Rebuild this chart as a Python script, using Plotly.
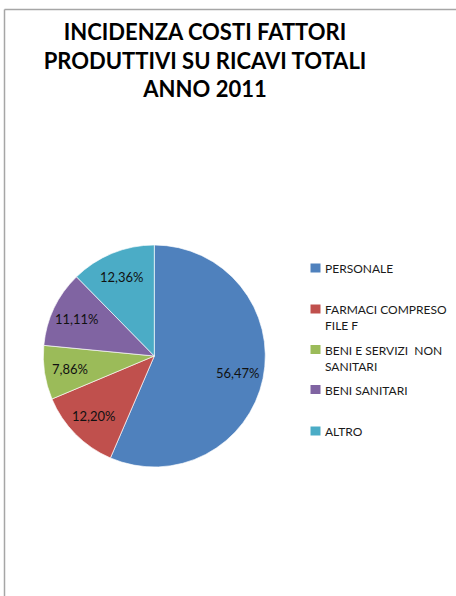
import math
import plotly.graph_objects as go

# Cost categories and their share of total revenue (2011)
categories = ["PERSONALE", "FARMACI COMPRESO FILE F", "BENI E SERVIZI  NON SANITARI",
              "BENI SANITARI", "ALTRO"]
legend_labels = ["PERSONALE", "FARMACI COMPRESO<br>FILE F", "BENI E SERVIZI  NON<br>SANITARI",
                 "BENI SANITARI", "ALTRO"]
shares = [56.47, 12.20, 7.86, 11.11, 12.36]
colors = ["#4F81BD", "#C0504D", "#9BBB59", "#8064A2", "#4BACC6"]
title_text = "INCIDENZA COSTI FATTORI<br>PRODUTTIVI SU RICAVI TOTALI<br>ANNO 2011"

W, H = 456, 596
FONT = "Lato, 'Open Sans', sans-serif"

# pie geometry in pixels
CX, CY, R = 154.3, 356, 111

fig = go.Figure()
fig.add_trace(go.Pie(
    labels=categories,
    values=shares,
    sort=False,
    direction="clockwise",
    rotation=0,
    marker=dict(colors=colors, line=dict(color="rgba(255,255,255,0.8)", width=0.8)),
    textinfo="none",
    showlegend=False,
    hoverinfo="label+value",
    domain=dict(x=[(CX - R) / W, (CX + R) / W],
                y=[1 - (CY + R) / H, 1 - (CY - R) / H]),
))

annotations = []

# Percentage labels placed along each slice's bisector
total = sum(shares)
cum = 0.0
for v in shares:
    mid = (cum + v / 2) / total * 2 * math.pi
    cum += v
    px = CX + 0.77 * R * math.sin(mid)
    py = CY - 0.77 * R * math.cos(mid)
    annotations.append(dict(text=f"{v:.2f}%".replace(".", ","),
                            xref="paper", yref="paper",
                            x=px / W, y=1 - py / H,
                            xanchor="center", yanchor="middle", showarrow=False,
                            font=dict(family=FONT, size=13, color="#111111")))

# Legend: colour swatches with wrapped category names
legend_y = [268, 309, 349.5, 389.5, 431]
shapes = []
for lab, col, yc in zip(legend_labels, colors, legend_y):
    shapes.append(dict(type="rect", xref="paper", yref="paper",
                       x0=310.5 / W, x1=320.5 / W,
                       y0=1 - (yc + 4.5) / H, y1=1 - (yc - 4.5) / H,
                       fillcolor=col, line=dict(width=0)))
    annotations.append(dict(text=lab, xref="paper", yref="paper",
                            x=323 / W, y=1 - (yc - 9) / H,
                            xanchor="left", yanchor="top", align="left",
                            showarrow=False,
                            font=dict(family=FONT, size=12, color="#1a1a1a")))

# Chart frame (top and left edges)
shapes.append(dict(type="line", xref="paper", yref="paper",
                   x0=4.5 / W, x1=1, y0=1 - 9.5 / H, y1=1 - 9.5 / H,
                   line=dict(color="#a6a6a6", width=1.5)))
shapes.append(dict(type="line", xref="paper", yref="paper",
                   x0=4.5 / W, x1=4.5 / W, y0=0, y1=1 - 9.5 / H,
                   line=dict(color="#a6a6a6", width=1.5)))

fig.update_layout(
    width=W, height=H,
    margin=dict(l=0, r=0, t=0, b=0),
    paper_bgcolor="white",
    plot_bgcolor="white",
    title=dict(text=title_text, x=205 / W, xanchor="center",
               y=1 - 40 / H, yanchor="top", yref="container",
               font=dict(family=FONT, size=22, color="#000000", weight="bold")),
    shapes=shapes,
    annotations=annotations,
)

fig.write_html("out.html")
